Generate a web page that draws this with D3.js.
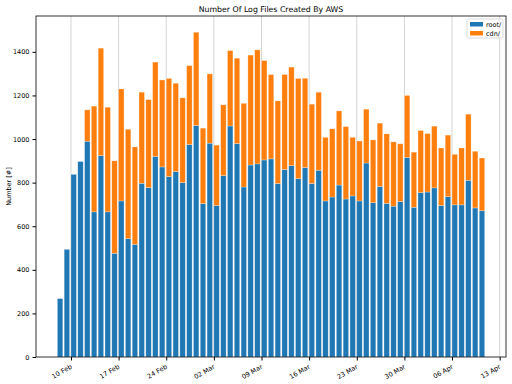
<!DOCTYPE html>
<html lang="en">
<head>
    <meta charset="UTF-8">
    <title>Number Of Log Files Created By AWS</title>
    <style>
        body { margin: 0; background: #fff; }
        text { font-family: "DejaVu Sans", sans-serif; }
    </style>
</head>
<body>
<script src="https://d3js.org/d3.v7.min.js"></script>
<script>
    // one bar per day, 2020
    const days = [
        "02-08", "02-09", "02-10", "02-11", "02-12", "02-13", "02-14", "02-15", "02-16", "02-17",
        "02-18", "02-19", "02-20", "02-21", "02-22", "02-23", "02-24", "02-25", "02-26", "02-27",
        "02-28", "02-29", "03-01", "03-02", "03-03", "03-04", "03-05", "03-06", "03-07", "03-08",
        "03-09", "03-10", "03-11", "03-12", "03-13", "03-14", "03-15", "03-16", "03-17", "03-18",
        "03-19", "03-20", "03-21", "03-22", "03-23", "03-24", "03-25", "03-26", "03-27", "03-28",
        "03-29", "03-30", "03-31", "04-01", "04-02", "04-03", "04-04", "04-05", "04-06", "04-07",
        "04-08", "04-09", "04-10"
    ];
    const root = [
        268, 494, 838, 897, 990, 666, 924, 666, 476, 716,
        543, 517, 797, 777, 920, 872, 828, 851, 800, 975,
        1062, 704, 981, 695, 832, 1060, 979, 780, 881, 886,
        904, 909, 796, 860, 878, 818, 869, 796, 857, 716,
        734, 789, 725, 739, 716, 890, 708, 782, 705, 692,
        713, 915, 687, 754, 757, 776, 695, 736, 698, 698,
        811, 684, 671
    ];
    const cdn = [
        0, 0, 0, 0, 144, 485, 493, 480, 424, 514,
        502, 447, 418, 404, 433, 399, 450, 405, 389, 362,
        428, 346, 318, 277, 325, 346, 392, 384, 504, 523,
        456, 387, 379, 436, 452, 460, 410, 364, 358, 292,
        313, 340, 332, 269, 275, 247, 288, 291, 319, 295,
        265, 285, 253, 285, 268, 283, 264, 282, 232, 261,
        303, 260, 242
    ];
    const seriesNames = ["root/", "cdn/"];
    const colors = ["#1f77b4", "#ff7f0e"];
    const yTicks = [0, 200, 400, 600, 800, 1000, 1200, 1400];

    const width = 512, height = 384;
    const margin = {top: 16, right: 6, bottom: 27, left: 36};
    const parse = d3.timeParse("%Y-%m-%d");

    const data = days.map((d, i) => ({date: parse("2020-" + d), root: root[i], cdn: cdn[i]}));
    const stacked = d3.stack().keys(["root", "cdn"])(data);

    const svg = d3.select("body").append("svg")
        .attr("width", width)
        .attr("height", height);

    // matplotlib style 5% margins on both axes
    const first = data[0].date;
    const last = d3.timeHour.offset(data[data.length - 1].date, 0.8 * 24);
    const pad = (last - first) * 0.05;
    const x = d3.scaleTime()
        .domain([new Date(+first - pad), new Date(+last + pad)])
        .range([margin.left, width - margin.right]);

    const yMaxVal = d3.max(data, d => d.root + d.cdn);
    const y = d3.scaleLinear()
        .domain([0, yMaxVal * 1.05])
        .range([height - margin.bottom, margin.top]);

    // weekly ticks on Mondays
    const xTicks = d3.timeMonday.range(x.domain()[0], x.domain()[1]);

    // vertical grid
    svg.append("g")
        .selectAll("line")
        .data(xTicks)
        .enter()
        .append("line")
        .attr("x1", d => x(d))
        .attr("x2", d => x(d))
        .attr("y1", margin.top)
        .attr("y2", height - margin.bottom)
        .attr("stroke", "#d4d4d4")
        .attr("stroke-width", 1);

    const dayW = x(d3.timeDay.offset(first, 1)) - x(first);

    svg.append("g")
        .selectAll("g")
        .data(stacked)
        .enter()
        .append("g")
        .attr("fill", (d, i) => colors[i])
        .selectAll("rect")
        .data(d => d)
        .enter()
        .append("rect")
        .attr("x", d => x(d.data.date))
        .attr("width", dayW * 0.8)
        .attr("y", d => y(d[1]))
        .attr("height", d => y(d[0]) - y(d[1]))
        .attr("stroke", "#ffffff")
        .attr("stroke-opacity", 0.45)
        .attr("stroke-width", 0.6);

    // axes
    const xAxis = svg.append("g")
        .attr("transform", `translate(0,${height - margin.bottom})`)
        .call(d3.axisBottom(x).tickValues(xTicks).tickFormat(d3.timeFormat("%d %b")).tickSize(3.5).tickSizeOuter(0));
    xAxis.select(".domain").remove();
    xAxis.selectAll("text")
        .attr("font-size", "6.5px")
        .attr("fill", "#000")
        .style("text-anchor", "end")
        .attr("dx", 0)
        .attr("dy", 0)
        .attr("y", 0)
        .attr("transform", "translate(1,11) rotate(-30)");

    const yAxis = svg.append("g")
        .attr("transform", `translate(${margin.left},0)`)
        .call(d3.axisLeft(y).tickValues(yTicks).tickFormat(d3.format("d")).tickSize(3.5).tickSizeOuter(0));
    yAxis.select(".domain").remove();
    yAxis.selectAll("text")
        .attr("font-size", "6.5px")
        .attr("fill", "#000");

    // frame
    svg.append("rect")
        .attr("x", margin.left)
        .attr("y", margin.top)
        .attr("width", width - margin.left - margin.right)
        .attr("height", height - margin.top - margin.bottom)
        .attr("fill", "none")
        .attr("stroke", "#000")
        .attr("stroke-width", 0.8);

    svg.append("text")
        .attr("x", (margin.left + width - margin.right) / 2)
        .attr("y", 12)
        .attr("text-anchor", "middle")
        .attr("font-size", "7.8px")
        .text("Number Of Log Files Created By AWS");

    svg.append("text")
        .attr("transform", `translate(11,${(margin.top + height - margin.bottom) / 2}) rotate(-90)`)
        .attr("text-anchor", "middle")
        .attr("font-size", "6.5px")
        .text("Number [#]");

    // legend
    const lg = svg.append("g").attr("transform", "translate(467,19)");
    lg.append("rect")
        .attr("width", 36).attr("height", 19)
        .attr("rx", 1.5)
        .attr("fill", "#fff").attr("fill-opacity", 0.8)
        .attr("stroke", "#d0d0d0").attr("stroke-width", 0.8);
    seriesNames.forEach((name, i) => {
        lg.append("rect")
            .attr("x", 3).attr("y", 3 + i * 9)
            .attr("width", 13).attr("height", 4.5)
            .attr("fill", colors[i]);
        lg.append("text")
            .attr("x", 19).attr("y", 7.5 + i * 9)
            .attr("font-size", "6.5px")
            .text(name);
    });
</script>
</body>
</html>
